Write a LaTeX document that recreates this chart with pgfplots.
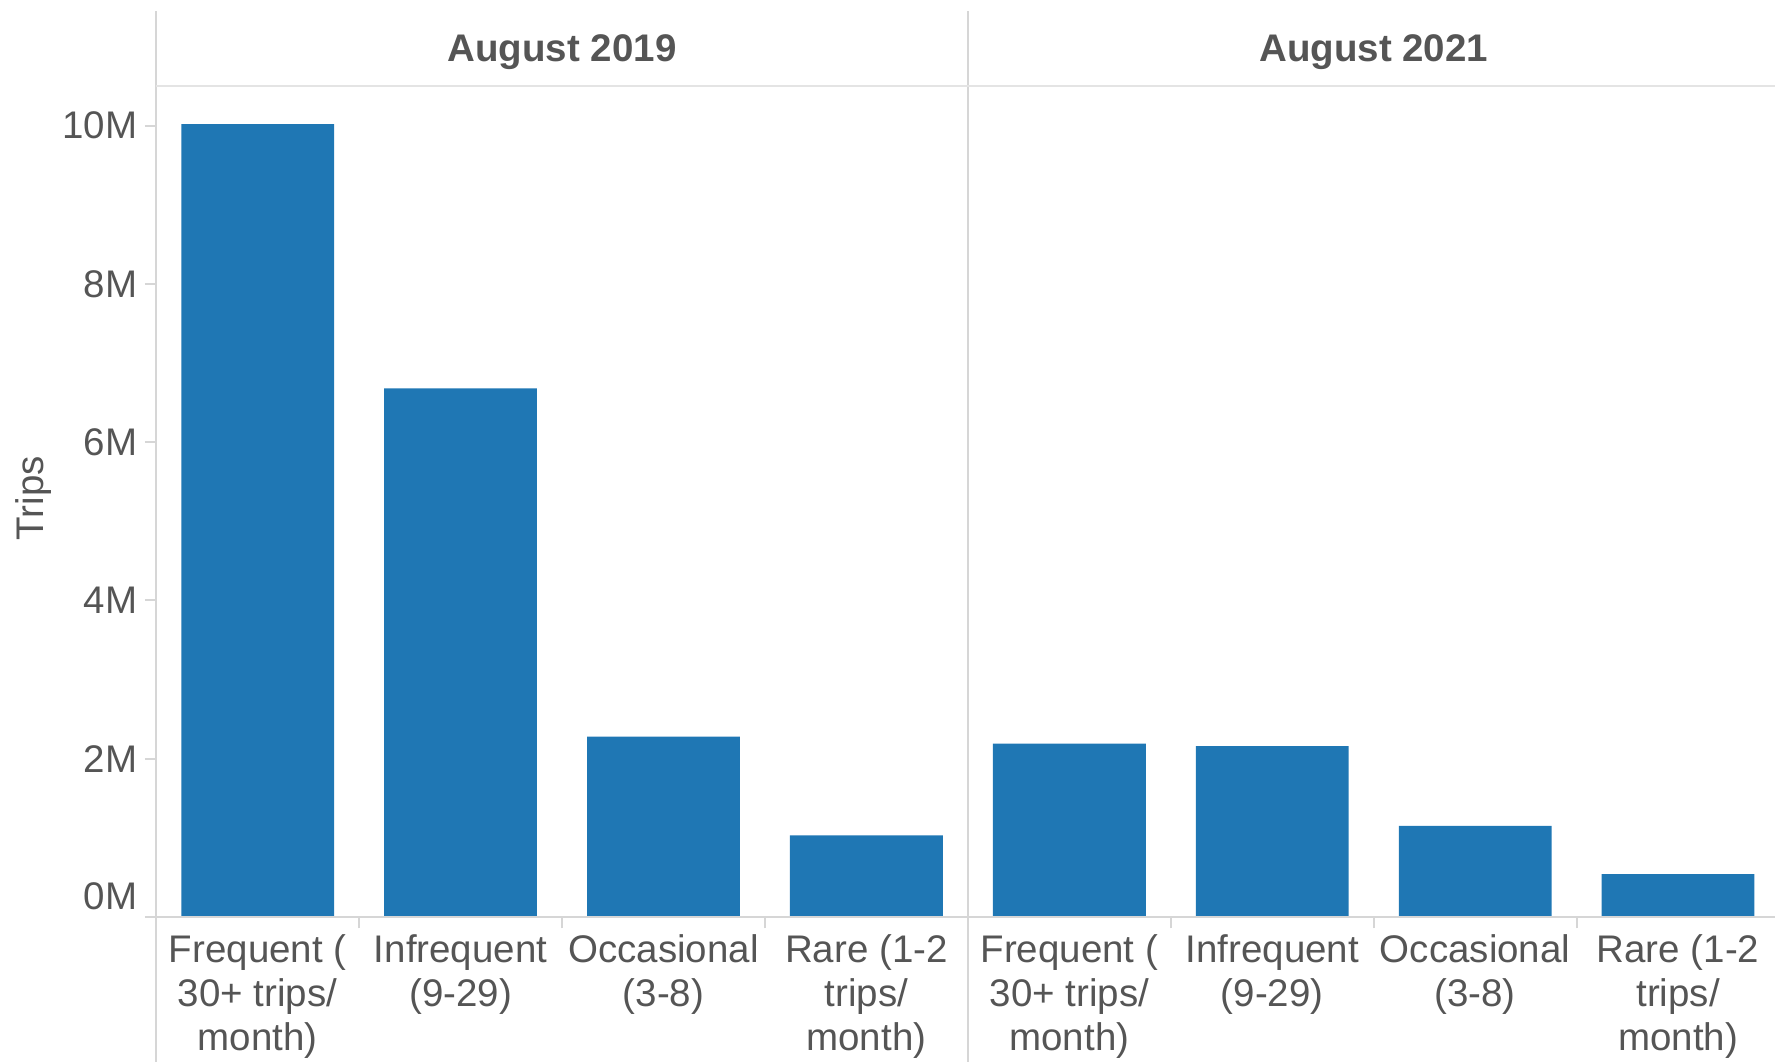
\documentclass[border=0pt]{standalone}
\usepackage{fontspec}
\setmainfont{Liberation Sans}
\usepackage{pgfplots}
\usepackage{pgfplotstable}
\pgfplotsset{compat=1.18}

\definecolor{barblue}{HTML}{1F77B4}
\definecolor{txt}{HTML}{555555}
\definecolor{rule}{HTML}{D6D6D6}
\definecolor{hrule}{HTML}{E4E4E4}

% trips per month, millions
\pgfplotstableread{
x y
0 10.02
1 6.68
2 2.28
3 1.03
}\augA
\pgfplotstableread{
x y
0 2.19
1 2.16
2 1.15
3 0.54
}\augB

\pgfplotsset{panel/.style={
  scale only axis, width=215.1pt, height=220.2pt,
  xmin=-0.5, xmax=3.5, ymin=0, ymax=10.5,
  axis line style={draw=none},
  ybar, bar width=40.5pt, bar shift=0pt,
  xtick={0,1,2,3},
  xticklabels={{Frequent (\\30+ trips/\\month)},{Infrequent\\(9-29)},{Occasional\\(3-8)},{Rare (1-2\\trips/\\month)}},
  minor xtick={0.5,1.5,2.5},
  major x tick style={draw=none},
  xtick pos=bottom, ytick pos=left,
  tick align=outside, major tick length=3pt, minor tick length=3pt,
  tick style={color=rule, line width=0.5pt},
  xticklabel style={align=center, anchor=north, inner sep=0pt, yshift=-1.5pt,
    font=\fontsize{10.2}{11.7}\selectfont, text=txt},
  yticklabel style={font=\fontsize{10.2}{12}\selectfont, text=txt, inner sep=0pt, xshift=-1.8pt},
  title style={at={(axis description cs:0.5,1.0027)}, anchor=base,
    font=\fontsize{10.2}{12}\selectfont\bfseries, text=txt},
  /pgf/number format/assume math mode=true,
}}

\begin{document}
\begin{tikzpicture}
\useasboundingbox (-41.4pt,-38.7pt) rectangle (429pt,243pt);

\begin{axis}[panel, title={August 2019},
  ytick={2,4,...,10}, yticklabel={\pgfmathprintnumber{\tick}M},
  extra y ticks={0}, extra y tick style={yticklabel style={yshift=5.4pt}},
  ylabel={Trips},
  ylabel style={at={(axis description cs:-0.1506,0.504)}, anchor=center,
    font=\fontsize{10.2}{12}\selectfont, text=txt}]
\addplot[fill=barblue, draw=none] table[x=x, y=y] {\augA};
\end{axis}

\begin{axis}[panel, at={(215.1pt,0)}, title={August 2021}, ytick=\empty]
\addplot[fill=barblue, draw=none] table[x=x, y=y] {\augB};
\end{axis}

\draw[rule, line width=0.6pt] (0,-38.4pt) -- (0,240pt);
\draw[rule, line width=0.6pt] (215.1pt,-38.4pt) -- (215.1pt,240pt);
\draw[hrule, line width=0.6pt] (0,220.2pt) -- (429pt,220.2pt);
\draw[rule, line width=0.7pt] (-3pt,0) -- (429pt,0);
\end{tikzpicture}
\end{document}
